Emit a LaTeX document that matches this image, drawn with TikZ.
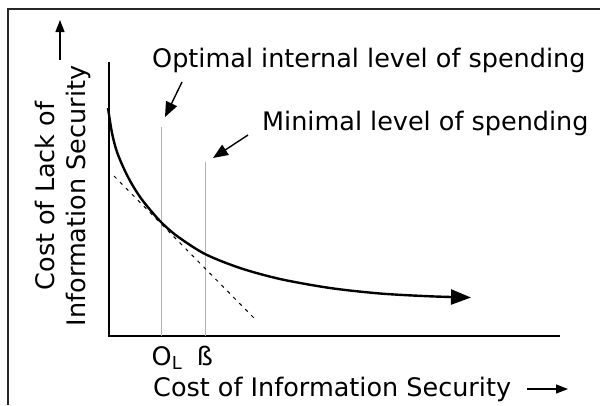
\documentclass[tikz,border=0pt]{standalone}
\usepackage{fontspec}
\setmainfont{DejaVu Sans}
\usetikzlibrary{arrows.meta}

\begin{document}
\begin{tikzpicture}[x=1pt,y=-1pt,
		lbl/.style={inner sep=0pt,font=\fontsize{25.5}{31}\selectfont},
		axisline/.style={line width=1.3pt,black},
		levelline/.style={line width=1pt,black!30},
		pointer/.style={line width=1.4pt,-{Triangle[length=15pt,width=12pt]}},
		costcurve/.style={line width=2.4pt,-{Triangle[length=20pt,width=15pt]}},
		tangent/.style={line width=1pt,dash pattern=on 3.5pt off 5pt}]
		\useasboundingbox (0,0) rectangle (600,405);
		% frame (runs off the page at right and bottom)
		\draw[line width=1.5pt,black!85] (8,405) -- (8,9) -- (600,9);
		
		% axes
		\coordinate (origin) at (109,336);
		\coordinate (ytop) at (109,62);
		\coordinate (xend) at (560,336);
		\draw[axisline] (ytop) -- (origin) -- (xend);
		
		% levels of spending
		\coordinate (oltop) at (161,127);
		\coordinate (olbot) at (161,336);
		\coordinate (betatop) at (205,162);
		\coordinate (betabot) at (205,336);
		\draw[levelline] (oltop) -- (olbot);
		\draw[levelline] (betatop) -- (betabot);
		
		% tangent at O_L
		\coordinate (tanA) at (114,176);
		\coordinate (tanB) at (254,318);
		\draw[tangent] (tanA) -- (tanB);
		
		% cost curve
		\draw[costcurve] plot[smooth,tension=0.5] coordinates {(108,108) (112,133) (117,152) (125,171) (133,186) (143,201) (160,221) (177,236) (205,254) (240,268) (280,279) (330,288) (380,293.5) (430,296.3) (471,297.5)};
		
		\node[lbl,anchor=base west] (opt) at (152,67) {Optimal internal level of spending};
		\node[lbl,anchor=base west] (minl) at (262,130) {Minimal level of spending};
		\coordinate (optA) at (182,82);
		\coordinate (optB) at (165,117);
		\coordinate (minA) at (248,135);
		\coordinate (minB) at (213,158);
		\draw[pointer] (optA) -- (optB);
		\draw[pointer] (minA) -- (minB);
		
		\node[lbl,anchor=base] (ol) at (167,365) {O\textsubscript{L}};
		\node[lbl,anchor=base] (beta) at (205,365) {ß};
		
		\node[lbl,anchor=base west] (xlab) at (153,396) {Cost of Information Security};
		\coordinate (xarrA) at (527,389);
		\coordinate (xarrB) at (568,389);
		\draw[line width=1.3pt,-{Triangle[length=12pt,width=9pt]}] (xarrA) -- (xarrB);
		
		\node[lbl,rotate=90,align=center] (ylab) at (63,196) {Cost of Lack of\\Information Security};
		\coordinate (yarrA) at (60,60);
		\coordinate (yarrB) at (60,20);
		\draw[line width=1.3pt,-{Triangle[length=12pt,width=9pt]}] (yarrA) -- (yarrB);
\end{tikzpicture}
\end{document}
